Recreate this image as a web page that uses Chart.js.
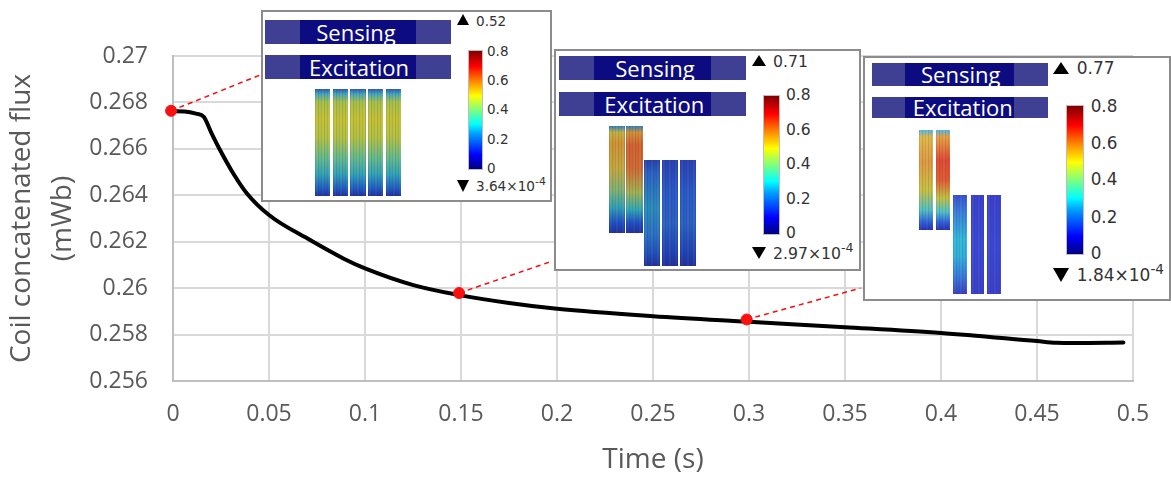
<!DOCTYPE html>
<html>
<head>
<meta charset="utf-8">
<title>Coil concatenated flux</title>
<script src="https://cdn.jsdelivr.net/npm/chart.js@4"></script>
<style>
    html, body { margin: 0; padding: 0; background: #fff; }
    #stage { position: relative; width: 1171px; height: 477px; overflow: hidden; }
    #chart { position: absolute; left: 0; top: 0; }
    .inset { position: absolute; box-sizing: border-box; background: #fff; border: 2px solid #8c8c8c; }
    .bar { position: absolute; background: #3f3f93; }
    .bar i { position: absolute; top: 0; bottom: 0; background: #0c0c80; }
    .bar span { position: absolute; top: 50%; transform: translate(-50%, -50%); color: #fff; font-family: "Open Sans", sans-serif; white-space: nowrap; }
    .strip { position: absolute; filter: blur(0.4px); }
    .strip::after { content: ''; position: absolute; inset: 0;
        background: repeating-linear-gradient(90deg, rgba(30,40,90,.10) 0 1px, rgba(255,255,255,.04) 1px 3px, rgba(30,40,90,.14) 3px 4px, rgba(255,255,255,0) 4px 6px); }
    .cbar { position: absolute; outline: 1px solid rgba(90,60,60,.35);
        background: linear-gradient(to top, #00007f 0%, #0000ff 12%, #00a0ff 30%, #00ffff 38%, #7fff7f 50%, #ffff00 62%, #ff8000 75%, #ff0000 87%, #7f0000 100%); }
    .lbl { position: absolute; color: #333; font-family: "DejaVu Sans", sans-serif; white-space: nowrap; transform: translateY(-50%); }
    .lbl sup { font-size: 0.8em; line-height: 0; }
    .tri { position: absolute; width: 0; height: 0; }
</style>
</head>
<body>
<div id="stage">
    <canvas id="chart" width="1171" height="477"></canvas>
</div>
<script>
// flux curve
const timeValues = [0, 0.006, 0.012, 0.016, 0.0201, 0.0245, 0.0314, 0.0384, 0.05, 0.0714, 0.0887, 0.1, 0.1252, 0.1478, 0.175, 0.2, 0.25, 0.3, 0.35, 0.4, 0.45, 0.46, 0.47, 0.495];
const fluxValues = [0.26762, 0.26761, 0.26752, 0.26738, 0.26667, 0.26595, 0.26494, 0.26409, 0.26315, 0.26207, 0.26128, 0.26085, 0.26013, 0.25972, 0.25936, 0.25911, 0.25879, 0.25855, 0.25832, 0.25807, 0.25772, 0.25765, 0.25764, 0.25766];

// red markers
const markerTimes = [-0.001, 0.149, 0.2988];
const markerFlux = [0.26764, 0.25979, 0.25865];

// dashed leader lines, marker to the hidden end behind each inset
const leaderEndTimes = [0.0453, 0.1964, 0.358];
const leaderEndFlux = [0.26918, 0.26113, 0.26];

const xTicks = [0, 0.05, 0.1, 0.15, 0.2, 0.25, 0.3, 0.35, 0.4, 0.45, 0.5];
const yTicks = [0.256, 0.258, 0.26, 0.262, 0.264, 0.266, 0.268, 0.27];

// inset texts
const maxLabels = ['0.52', '0.71', '0.77'];
const minLabels = ['3.64', '2.97', '1.84'];
const colorbarLabels = ['0.8', '0.6', '0.4', '0.2', '0'];

const gridColor = '#d9d9d9';
const textColor = '#595959';

const leaders = markerTimes.map((t, i) => ({
    type: 'line',
    data: [{ x: t, y: markerFlux[i] }, { x: leaderEndTimes[i], y: leaderEndFlux[i] }],
    borderColor: '#f01010',
    borderWidth: 1.5,
    borderDash: [5, 4],
    pointRadius: 0,
    order: 3
}));

new Chart(document.getElementById('chart'), {
    type: 'scatter',
    data: {
        datasets: [
            {
                type: 'scatter',
                data: markerTimes.map((t, i) => ({ x: t, y: markerFlux[i] })),
                backgroundColor: '#fb0f0f',
                borderColor: '#fb0f0f',
                pointRadius: 5.5,
                clip: false,
                order: 1
            },
            {
                type: 'line',
                data: timeValues.map((t, i) => ({ x: t, y: fluxValues[i] })),
                borderColor: '#000',
                borderWidth: 4,
                pointRadius: 0,
                cubicInterpolationMode: 'monotone',
                borderJoinStyle: 'round',
                borderCapStyle: 'round',
                order: 2
            },
            ...leaders
        ]
    },
    options: {
        responsive: false,
        animation: false,
        layout: { padding: { top: 56, right: 38, left: 0, bottom: 0 } },
        plugins: { legend: { display: false }, tooltip: { enabled: false } },
        scales: {
            x: {
                type: 'linear',
                min: 0,
                max: 0.5,
                afterBuildTicks: scale => { scale.ticks = xTicks.map(v => ({ value: v })); },
                afterFit: scale => { scale.height = 96; },
                grid: { color: gridColor, lineWidth: 2, drawTicks: false },
                border: { color: '#bfbfbf', width: 2 },
                ticks: {
                    color: textColor,
                    font: { family: 'Open Sans', size: 23 },
                    padding: 20,
                    maxRotation: 0,
                    callback: v => String(v)
                },
                title: {
                    display: true,
                    text: 'Time (s)',
                    color: textColor,
                    font: { family: 'Open Sans', size: 28 },
                    padding: { top: 4, bottom: 0 }
                }
            },
            y: {
                min: 0.256,
                max: 0.27,
                afterBuildTicks: scale => { scale.ticks = yTicks.map(v => ({ value: v })); },
                afterFit: scale => { scale.width = 173; },
                grid: { color: gridColor, lineWidth: 2, drawTicks: false },
                border: { color: '#bfbfbf', width: 2 },
                ticks: {
                    color: textColor,
                    font: { family: 'Open Sans', size: 23 },
                    padding: 25,
                    callback: v => String(v)
                },
                title: {
                    display: true,
                    text: ['Coil concatenated flux', '(mWb)'],
                    color: textColor,
                    font: { family: 'Open Sans', size: 28, lineHeight: 1.45 },
                    padding: { top: 2, bottom: 0 }
                }
            }
        }
    }
});

// ---- inset panels (field plots pasted over the chart) ----
const stage = document.getElementById('stage');

function add(parent, cls, x, y, w, h, css) {
    const el = document.createElement('div');
    el.className = cls;
    el.style.left = x + 'px';
    el.style.top = y + 'px';
    if (w !== null) el.style.width = w + 'px';
    if (h !== null) el.style.height = h + 'px';
    if (css) el.style.cssText += css;
    parent.appendChild(el);
    return el;
}

function addBar(cfg, y, h, word, wordX) {
    const bar = add(stage, 'bar', cfg.barX, y, cfg.barW, h);
    const dark = document.createElement('i');
    dark.style.left = (cfg.darkX - cfg.barX) + 'px';
    dark.style.width = cfg.darkW + 'px';
    bar.appendChild(dark);
    const label = document.createElement('span');
    label.textContent = word;
    label.style.left = (wordX - cfg.barX) + 'px';
    label.style.fontSize = cfg.wordSize + 'px';
    bar.appendChild(label);
}

function addTriangle(x, y, w, h, up) {
    const side = `border-left:${w / 2}px solid transparent;border-right:${w / 2}px solid transparent;`;
    const fill = up ? `border-bottom:${h}px solid #000;` : `border-top:${h}px solid #000;`;
    add(stage, 'tri', x, y, null, null, side + fill);
}

function addLabel(x, y, size, html) {
    const el = add(stage, 'lbl', x, y, null, null, `font-size:${size}px;`);
    el.innerHTML = html;
}

const g1 = 'linear-gradient(to bottom,#2d5ab0 0%,#45a8b8 5%,#a5be48 12%,#c4c032 28%,#b4c040 45%,#62b88c 65%,#30a0b4 80%,#2060c0 92%,#2030a0 100%)';
const g2 = 'linear-gradient(to bottom,#3080c0 0%,#c0b040 6%,#cf9230 16%,#c2a63e 40%,#80b070 60%,#30a0b0 76%,#2050c0 90%,#2030a0 100%)';
const g3 = 'linear-gradient(to bottom,#3080c0 0%,#d09035 6%,#d2602f 18%,#d06a30 40%,#a0b050 62%,#30a8b0 78%,#2050c0 90%,#2030a0 100%)';
const g4 = 'linear-gradient(to bottom,#2a40a8 0%,#2a60c0 12%,#2a8ab8 45%,#2a70c0 70%,#2050b8 88%,#20309a 100%)';
const g5 = 'linear-gradient(to bottom,#2a40b0 0%,#2a58c4 30%,#2a60c0 60%,#2040b0 88%,#20309a 100%)';
const g6 = 'linear-gradient(to bottom,#50b8e8 0%,#e0b848 7%,#e09840 32%,#c8c040 60%,#50c0c0 80%,#3060d8 92%,#2a30b0 100%)';
const g7 = 'linear-gradient(to bottom,#50b8e8 0%,#e8a040 7%,#e04a30 30%,#e05a30 50%,#c0c040 68%,#50c0c8 82%,#3060d8 92%,#2a30b0 100%)';
const g8 = 'linear-gradient(to bottom,#3a50d0 0%,#3a78d8 15%,#30b8d8 45%,#30b0d8 62%,#3a70d8 85%,#3a40c0 100%)';
const g9 = 'linear-gradient(to bottom,#3a40cc 0%,#3a48d4 50%,#3a40c8 100%)';

const panels = [
    {
        box: [261, 10, 291, 192], barX: 265, barW: 186, darkX: 300, darkW: 116, wordSize: 22,
        sensing: [20, 24, 356], excitation: [55, 24, 359],
        strips: [[315, 89, 15.3, 107, g1], [332.7, 89, 15.3, 107, g1], [350.3, 89, 15.3, 107, g1], [368, 89, 15.3, 107, g1], [385.7, 89, 15.6, 107, g1]],
        cbar: [468.7, 50.7, 13, 118.6], tickYs: [50.7, 80, 109, 139, 168], tickX: 487, tickSize: 13.5,
        up: [457, 14, 13, 11], down: [457, 180, 13, 12], textX: 476, maxY: 20.7, minY: 186, textSize: 13.6
    },
    {
        box: [554, 49, 307, 222], barX: 559, barW: 187, darkX: 594.3, darkW: 116.4, wordSize: 22,
        sensing: [56, 24, 655], excitation: [91.7, 24, 654.3],
        strips: [[608.7, 126, 16.3, 106.7, g2], [626.3, 126, 16.4, 106.7, g3], [644, 160.3, 16.3, 105.7, g4], [662, 160.3, 16.3, 105.7, g5], [679.7, 160.3, 16.3, 105.7, g5]],
        cbar: [764.3, 95.7, 15, 138.3], tickYs: [95, 130, 164.3, 199, 233.3], tickX: 786, tickSize: 15.5,
        up: [751.7, 55, 15, 11], down: [751.7, 247, 15, 12.5], textX: 773, maxY: 61, minY: 252.7, textSize: 15.7
    },
    {
        box: [863, 56, 308, 245], barX: 871.7, barW: 176, darkX: 905, darkW: 109.3, wordSize: 22,
        sensing: [63.3, 22.4, 960.7], excitation: [96.7, 21.6, 962.7],
        strips: [[919.3, 129.7, 14, 100, g6], [936.3, 129.7, 13.7, 100, g7], [953.3, 195.3, 13.7, 99, g8], [970.7, 195.3, 13.3, 99, g9], [987.3, 195.3, 13.7, 99, g9]],
        cbar: [1067.3, 105.7, 16, 148.3], tickYs: [105.7, 142.7, 179.3, 216.7, 253], tickX: 1090.7, tickSize: 16.8,
        up: [1053.3, 62, 16, 12], down: [1053.3, 268, 16, 14], textX: 1076.7, maxY: 68.3, minY: 275, textSize: 17
    }
];

panels.forEach((cfg, i) => {
    add(stage, 'inset', cfg.box[0], cfg.box[1], cfg.box[2], cfg.box[3]);
    addBar(cfg, cfg.sensing[0], cfg.sensing[1], 'Sensing', cfg.sensing[2]);
    addBar(cfg, cfg.excitation[0], cfg.excitation[1], 'Excitation', cfg.excitation[2]);
    cfg.strips.forEach(s => add(stage, 'strip', s[0], s[1], s[2], s[3], `background:${s[4]};`));
    add(stage, 'cbar', cfg.cbar[0], cfg.cbar[1], cfg.cbar[2], cfg.cbar[3]);
    colorbarLabels.forEach((txt, k) => addLabel(cfg.tickX, cfg.tickYs[k], cfg.tickSize, txt));
    addTriangle(cfg.up[0], cfg.up[1], cfg.up[2], cfg.up[3], true);
    addTriangle(cfg.down[0], cfg.down[1], cfg.down[2], cfg.down[3], false);
    addLabel(cfg.textX, cfg.maxY, cfg.textSize, maxLabels[i]);
    addLabel(cfg.textX, cfg.minY, cfg.textSize, minLabels[i] + '×10<sup>-4</sup>');
});
</script>
</body>
</html>
